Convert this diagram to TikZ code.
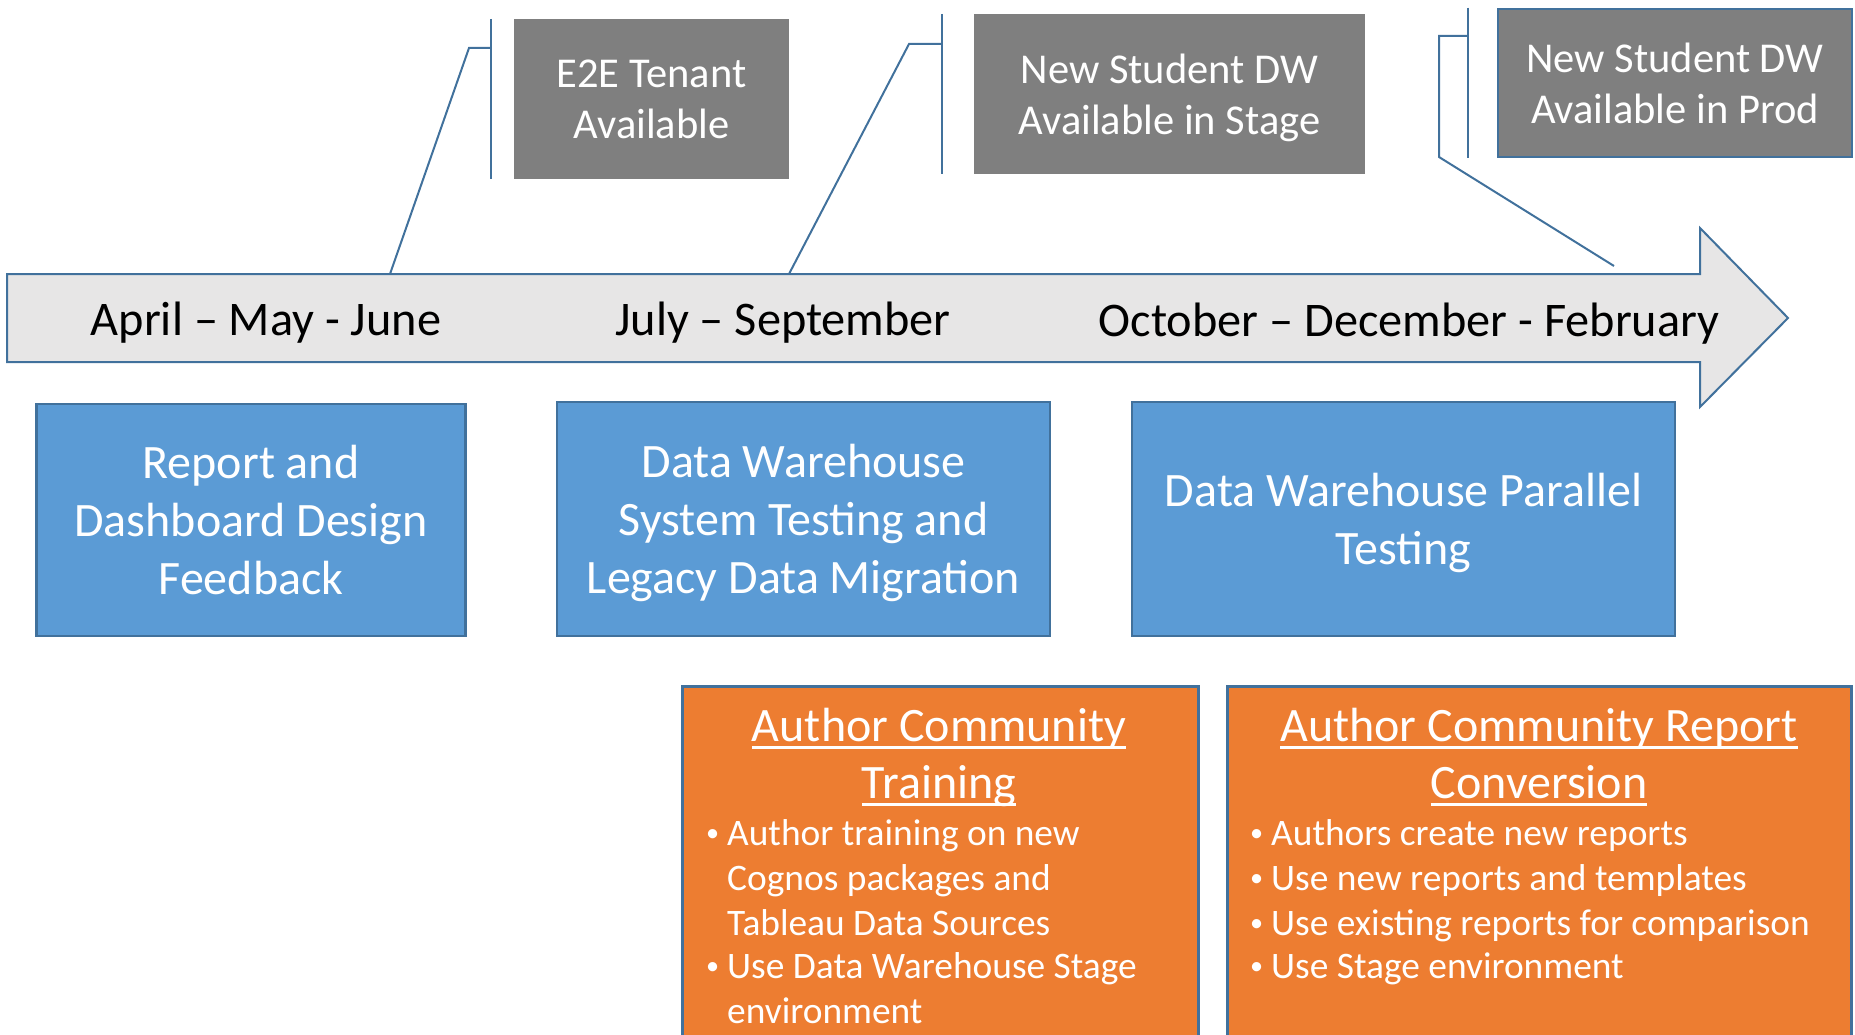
\documentclass[tikz,border=0pt]{standalone}
\usepackage{fontspec}
\usepackage{graphicx}
\setmainfont{Carlito}
\usetikzlibrary{positioning}
\definecolor{tlblue}{HTML}{5B9BD5}
\definecolor{tlorange}{HTML}{ED7D31}
\definecolor{tlgray}{HTML}{7F7F7F}
\definecolor{tlline}{HTML}{41719C}
\definecolor{tlarrow}{HTML}{E7E6E6}
\newlength\ulwd
\newcommand{\ulined}[1]{\settowidth{\ulwd}{#1}\rlap{\rule[-7.5pt]{\ulwd}{2.5pt}}#1}
\newcommand{\bul}{\makebox[21pt][l]{\raisebox{3.6pt}{\scalebox{0.7}{\textbullet}}}}
\newcommand{\ind}{\hspace*{21pt}}
\begin{document}
\begin{tikzpicture}[x=1pt,y=-1pt,
  callout/.style={draw=tlline,line width=2pt},
  month/.style={anchor=base,inner sep=0pt,font=\fontsize{48.3}{56}\selectfont},
  milestone/.style={fill=tlgray,text=white,align=center,inner sep=0pt,font=\fontsize{42.5}{51}\selectfont},
  phase/.style={fill=tlblue,draw=tlline,line width=2.5pt,text=white,align=center,inner sep=0pt,font=\fontsize{48}{58}\selectfont},
  community/.style={fill=tlorange,draw=tlline,line width=2.5pt,anchor=north west,inner sep=0pt},
  ctitle/.style={anchor=base,text=white,inner sep=0pt,font=\fontsize{48}{57}\selectfont},
  citem/.style={anchor=base west,text=white,inner sep=0pt,font=\fontsize{37.4}{44}\selectfont}]
\useasboundingbox (0,0) rectangle (1855,1035);

\filldraw[fill=tlarrow,draw=tlline,line width=2pt] (7,274) -- (1700,274) -- (1700,228) -- (1788,318) -- (1700,407) -- (1700,362) -- (7,362) -- cycle;
\node[month] (q1) at (266,335) {April – May - June};
\node[month] (q2) at (783,335) {July – September};
\node[month] (q3) at (1409,336) {October – December - February};

\node[milestone,minimum width=275pt,minimum height=160pt] (e2e) at (651.5,99) {E2E Tenant\\Available};
\node[milestone,minimum width=391pt,minimum height=160pt] (stage) at (1169.5,94) {New Student DW\\\smash{Available in Stage}};
\node[milestone,draw=tlline,line width=2.5pt,minimum width=354pt,minimum height=148pt] (prod) at (1675,83) {New Student DW\\Available in Prod};

\coordinate (e2e-bar) at ([xshift=-23pt]e2e.west);
\coordinate (e2e-knee) at (469,48);
\coordinate (e2e-foot) at (390,274);
\draw[callout] (e2e-bar |- e2e.north) -- (e2e-bar |- e2e.south);
\draw[callout] (e2e-foot) -- (e2e-knee) -- (e2e-knee -| e2e-bar);

\coordinate (stage-bar) at ([xshift=-32pt]stage.west);
\coordinate (stage-knee) at (909,44);
\coordinate (stage-foot) at (789,274);
\draw[callout] (stage-bar |- stage.north) -- (stage-bar |- stage.south);
\draw[callout] (stage-foot) -- (stage-knee) -- (stage-knee -| stage-bar);

\coordinate (prod-bar) at ([xshift=-29pt]prod.west);
\coordinate (prod-knee) at (1439,36);
\coordinate (prod-elbow) at (1439,157);
\coordinate (prod-foot) at (1614,266);
\draw[callout] (prod-bar |- prod.north) -- (prod-bar |- prod.south);
\draw[callout] (prod-foot) -- (prod-elbow) -- (prod-knee) -- (prod-knee -| prod-bar);

\node[phase,minimum width=429pt,minimum height=232pt] (design) at (251,520) {Report and\\Dashboard Design\\Feedback};
\node[phase,minimum width=493pt,minimum height=234pt] (testing) at (803.5,519) {Data Warehouse\\System Testing and\\\smash{Legacy Data Migration}};
\node[phase,minimum width=543pt,minimum height=234pt] (parallel) at (1403.5,519) {Data Warehouse Parallel\\\smash{Testing}};

\node[community,minimum width=516pt,minimum height=370pt] (training) at (681,685) {};
\node[community,minimum width=624pt,minimum height=370pt] (conversion) at (1226,685) {};
\node[ctitle] (training-t1) at (939,741) {\ulined{Author Community}};
\node[ctitle] (training-t2) at (939,798) {\ulined{Training}};
\node[ctitle] (conversion-t1) at (1539,741) {\ulined{Author Community Report}};
\node[ctitle] (conversion-t2) at (1539,798) {\ulined{Conversion}};
\foreach \y/\t [count=\i] in {845/\bul Author training on new, 890/\ind Cognos packages and, 935/\ind Tableau Data Sources, 978/\bul Use Data Warehouse Stage, 1023/\ind environment}
   \node[citem] (training-\i) at (706,\y) {\t};
\foreach \y/\t [count=\i] in {845/\bul Authors create new reports, 890/\bul Use new reports and templates, 935/\bul Use existing reports for comparison, 978/\bul Use Stage environment}
   \node[citem] (conversion-\i) at (1250,\y) {\t};
\end{tikzpicture}
\end{document}
